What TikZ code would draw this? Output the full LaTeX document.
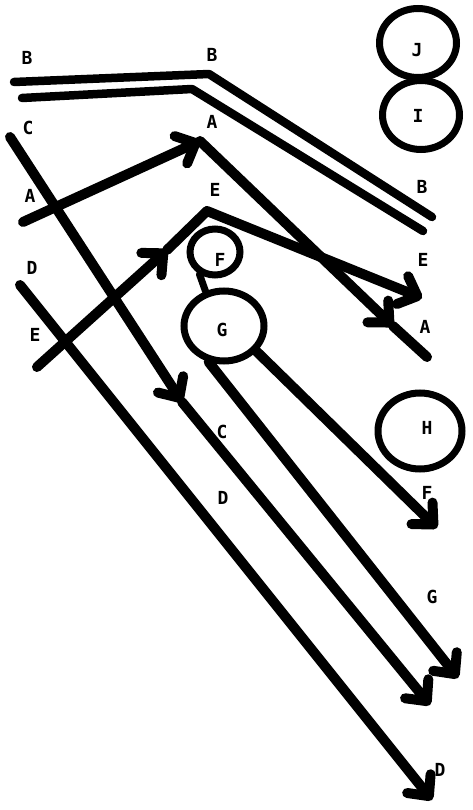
\documentclass[tikz,border=0pt]{standalone}
\usepackage{fontspec}
\setmainfont{DejaVu Sans Mono}
\usetikzlibrary{arrows.meta,shapes.geometric}
\tikzset{
  wl/.style={line width=10pt, line cap=round, line join=round},
  bl/.style={line width=8.5pt, line cap=round, line join=round},
  arrowend/.style={-{Straight Barb[round,length=16pt,width=30pt]}},
  blob/.style={draw, ellipse, line width=7pt, inner sep=0pt},
  lab/.style={inner sep=0pt, font=\fontsize{18}{18}\selectfont\bfseries}
}
\begin{document}
\begin{tikzpicture}[x=1pt,y=-1pt]
\useasboundingbox (0,0) rectangle (473,810);
% circles
\node[blob, minimum width=77pt, minimum height=69pt] (J) at (418,43) {};
\node[lab] (Jl) at (417,50) {J};
\node[blob, minimum width=77pt, minimum height=69pt] (I) at (421,115) {};
\node[lab] (Il) at (418,116) {I};
\node[blob, minimum width=50pt, minimum height=46pt] (F) at (215,252) {};
\node[lab] (Fl) at (220,260) {F};
\node[blob, minimum width=80pt, minimum height=70pt] (G) at (224,326) {};
\node[lab] (Gl) at (222,330) {G};
\node[blob, minimum width=84pt, minimum height=76pt] (H) at (420,431) {};
\node[lab] (Hl) at (427,428) {H};
\draw[line width=7pt, line cap=round] (F.235) -- (G.118);

% B double line
\coordinate (bu0) at (14,82);
\coordinate (bu1) at (209,74);
\coordinate (bu2) at (432,217);
\coordinate (bl0) at (22,98);
\coordinate (bl1) at (192,89);
\coordinate (bl2) at (423,231);
\draw[bl] (bu0) -- (bu1) -- (bu2);
\draw[bl] (bl0) -- (bl1) -- (bl2);

% C line
\coordinate (c0) at (10,137);
\coordinate (c1) at (182,402);
\coordinate (c2) at (430,705);
\draw[wl, arrowend] (c0) -- (c1);
\draw[wl, arrowend] (c1) -- (c2);

% A line
\coordinate (a0) at (23,222);
\coordinate (a1) at (200,141);
\coordinate (a2) at (393,326);
\coordinate (a3) at (427,357);
\draw[wl, arrowend] (a0) -- (a1);
\draw[wl, arrowend] (a1) -- (a2);
\draw[wl] (a2) -- (a3);

% E line
\coordinate (e0) at (37,367);
\coordinate (e1) at (167,250);
\coordinate (e2) at (207,211);
\coordinate (e3) at (422,298);
\draw[wl, arrowend] (e0) -- (e1);
\draw[wl, arrowend] (e1) -- (e2) -- (e3);

% D line
\coordinate (d0) at (20,285);
\coordinate (d1) at (432,800);
\draw[wl, arrowend] (d0) -- (d1);

% lines from G
\coordinate (gend) at (458,678);
\coordinate (fend) at (437,528);
\draw[wl, arrowend] (G.247) -- (gend);
\draw[wl, arrowend] (G.-38) -- (fend);

% labels
\node[lab] (lB1) at (27,58) {B};
\node[lab] (lB2) at (212,55) {B};
\node[lab] (lC1) at (28,128) {C};
\node[lab] (lA1) at (30,196) {A};
\node[lab] (lD1) at (32,268) {D};
\node[lab] (lE1) at (35,335) {E};
\node[lab] (lA2) at (212,122) {A};
\node[lab] (lE2) at (215,190) {E};
\node[lab] (lB3) at (422,187) {B};
\node[lab] (lE3) at (423,260) {E};
\node[lab] (lA3) at (425,327) {A};
\node[lab] (lC2) at (222,432) {C};
\node[lab] (lD2) at (223,498) {D};
\node[lab] (lF2) at (427,493) {F};
\node[lab] (lG2) at (432,597) {G};
\node[lab] (lD3) at (440,770) {D};
\end{tikzpicture}
\end{document}
